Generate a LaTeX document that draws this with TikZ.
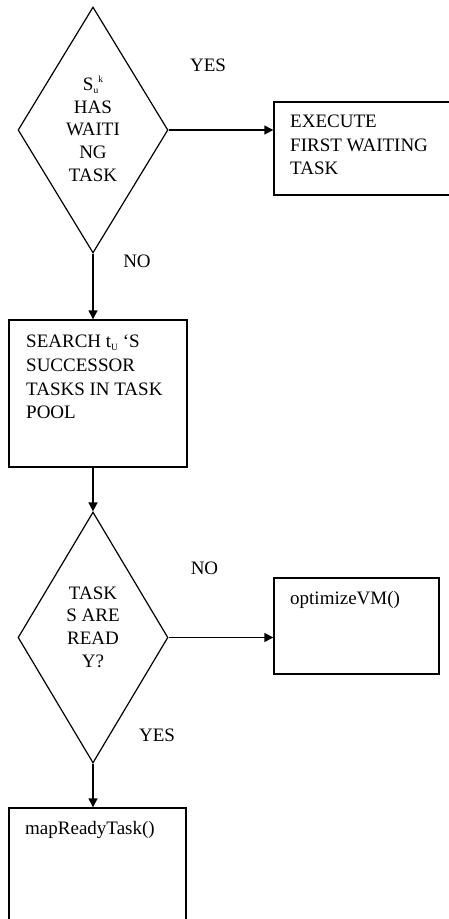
\documentclass[tikz,border=0pt]{standalone}
\usepackage{fontspec}
\setmainfont{Liberation Serif}
\usetikzlibrary{shapes.geometric,arrows.meta}

\newcommand{\subtxt}[1]{\raisebox{-3pt}{\fontsize{9.5}{9.5}\selectfont #1}}
\newcommand{\suptxt}[1]{\raisebox{8pt}{\fontsize{9.5}{9.5}\selectfont #1}}

\begin{document}
\begin{tikzpicture}[x=1pt,y=-1pt,
  decision/.style={draw, line width=1.2pt, shape=diamond, inner sep=0pt,
    minimum width=150pt, minimum height=#1},
  procbox/.style={draw, line width=1.4pt, rectangle, inner sep=0pt},
  boxtext/.style={anchor=north west, inner sep=0pt, align=left,
    font=\fontsize{19}{23.6}\selectfont},
  dtext/.style={anchor=north, inner sep=0pt, align=center,
    font=\fontsize{19}{22.6}\selectfont},
  lbl/.style={inner sep=0pt, font=\fontsize{19}{22}\selectfont},
  flow/.style={line width=1.4pt, -{Triangle[length=9pt,width=9pt]}}]

\useasboundingbox (0,0) rectangle (449,919);

% first decision: any waiting task?
\node[decision=246pt] (d1) at (93,130) {};
\node[dtext] (d1t) at (93,76) {S\subtxt{u}\suptxt{k}\\HAS\\WAITI\\NG\\TASK};

% execute branch (runs past the right edge)
\node[procbox, minimum width=186pt, minimum height=93pt] (b1) at (367,148.5) {};
\node[boxtext] (b1t) at (290,115) {EXECUTE\\FIRST WAITING\\TASK};

% search successors
\node[procbox, minimum width=178pt, minimum height=147pt] (b2) at (98,393.5) {};
\node[boxtext] (b2t) at (26,335) {SEARCH t\subtxt{U} ‘S\\SUCCESSOR\\TASKS IN TASK\\POOL};

% second decision: tasks ready?
\node[decision=251pt] (d2) at (93,637.5) {};
\node[dtext] (d2t) at (93,586.5) {TASK\\S ARE\\READ\\Y?};

\node[procbox, minimum width=165pt, minimum height=96pt] (b3) at (356.5,626) {};
\node[boxtext] (b3t) at (290,591) {optimizeVM()};

% map ready tasks (runs past the bottom edge)
\node[procbox, minimum width=177pt, minimum height=127pt] (b4) at (97.5,871.5) {};
\node[boxtext] (b4t) at (25,821) {mapReadyTask()};

% branch labels
\node[lbl] (yes1) at (208,65) {YES};
\node[lbl] (no1) at (137,261) {NO};
\node[lbl] (no2) at (204.5,568) {NO};
\node[lbl] (yes2) at (157,735) {YES};

% connectors
\draw[flow] (d1.east) -- (d1.east -| b1.west);
\draw[flow] (d1.south) -- (d1.south |- b2.north);
\draw[flow] (d2.north |- b2.south) -- (d2.north);
\draw[flow] (d2.east) -- (d2.east -| b3.west);
\draw[flow] (d2.south) -- (d2.south |- b4.north);
\end{tikzpicture}
\end{document}
